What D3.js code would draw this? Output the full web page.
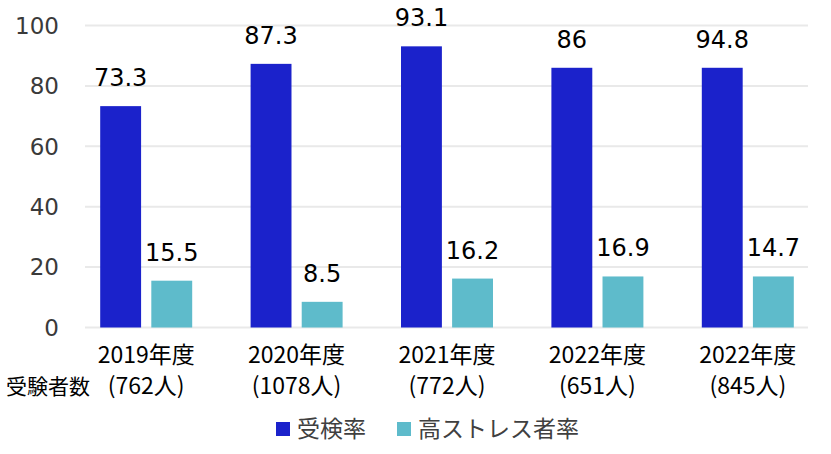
<!DOCTYPE html>
<html>
<head>
<meta charset="utf-8">
<script src="https://cdn.jsdelivr.net/npm/d3@7"></script>
<style>
  body { margin: 0; background: #fff; }
  svg { display: block; }
</style>
</head>
<body>
<script>
// chart data
const years = ["2019年度", "2020年度", "2021年度", "2022年度", "2022年度"];
const examinees = ["(762人)", "(1078人)", "(772人)", "(651人)", "(845人)"];
const seriesNames = ["受検率", "高ストレス者率"];
// bar heights as drawn in the picture
const examRate = [73.3, 87.3, 93.1, 86, 86];
const stressRate = [15.5, 8.5, 16.2, 16.9, 16.9];
// labels as printed above the bars
const examLabels = ["73.3", "87.3", "93.1", "86", "94.8"];
const stressLabels = ["15.5", "8.5", "16.2", "16.9", "14.7"];
const yTicks = [0, 20, 40, 60, 80, 100];

const colors = ["#1b22cb", "#5ebbcb"];
const width = 831, height = 454;

const svg = d3.select("body").append("svg")
  .attr("width", width)
  .attr("height", height);

const y = d3.scaleLinear().domain([0, 100]).range([327.5, 25.5]);
const x = d3.scaleBand().domain(d3.range(years.length)).range([71, 823]);
const xs = d3.scaleBand().domain([0, 1]).range([0, 92]).paddingInner(0.2);
const groupOffset = (x.bandwidth() - 92) / 2;

// gridlines
svg.append("g")
  .selectAll("line")
  .data(yTicks)
  .join("line")
  .attr("x1", 85)
  .attr("x2", 808)
  .attr("y1", d => y(d))
  .attr("y2", d => y(d))
  .attr("stroke", "#e9e9e9")
  .attr("stroke-width", 2);

// y axis labels
svg.append("g")
  .selectAll("text")
  .data(yTicks)
  .join("text")
  .attr("x", 59)
  .attr("y", d => y(d))
  .attr("dy", "0.36em")
  .attr("text-anchor", "end")
  .style("font-family", "DejaVu Sans, Verdana, sans-serif")
  .style("font-size", "23px")
  .style("fill", "#3a3a3a")
  .text(d => d);

const series = [
  { values: examRate, labels: examLabels },
  { values: stressRate, labels: stressLabels }
];

series.forEach((s, si) => {
  const g = svg.append("g");
  g.selectAll("rect")
    .data(s.values)
    .join("rect")
    .attr("x", (d, i) => x(i) + groupOffset + xs(si))
    .attr("width", xs.bandwidth())
    .attr("y", d => y(d))
    .attr("height", d => y(0) - y(d))
    .style("fill", colors[si]);

  g.selectAll("text")
    .data(s.values)
    .join("text")
    .attr("x", (d, i) => x(i) + groupOffset + xs(si) + xs.bandwidth() / 2)
    .attr("y", d => y(d) - 20)
    .attr("text-anchor", "middle")
    .style("font-family", "DejaVu Sans, Verdana, sans-serif")
    .style("font-size", "24px")
    .style("fill", "#000")
    .text((d, i) => s.labels[i]);
});

// category labels
const cjk = "'Noto Sans CJK JP', sans-serif";
svg.append("g")
  .selectAll("text")
  .data(years)
  .join("text")
  .attr("x", (d, i) => x(i) + x.bandwidth() / 2)
  .attr("y", 363)
  .attr("text-anchor", "middle")
  .style("font-family", cjk)
  .style("font-size", "23px")
  .style("fill", "#000")
  .text(d => d);

svg.append("g")
  .selectAll("text")
  .data(examinees)
  .join("text")
  .attr("x", (d, i) => x(i) + x.bandwidth() / 2)
  .attr("y", 394)
  .attr("text-anchor", "middle")
  .style("font-family", cjk)
  .style("font-size", "23px")
  .style("fill", "#000")
  .text(d => d);

svg.append("text")
  .attr("x", 6)
  .attr("y", 394)
  .style("font-family", cjk)
  .style("font-size", "21px")
  .style("fill", "#000")
  .text("受験者数");

// legend
const legendX = [276, 397];
const legend = svg.append("g")
  .selectAll("g")
  .data(seriesNames)
  .join("g")
  .attr("transform", (d, i) => `translate(${legendX[i]},422)`);

legend.append("rect")
  .attr("width", 14)
  .attr("height", 14)
  .style("fill", (d, i) => colors[i]);

legend.append("text")
  .attr("x", 21)
  .attr("y", 15)
  .style("font-family", cjk)
  .style("font-size", "23px")
  .style("fill", "#404040")
  .text(d => d);
</script>
</body>
</html>
